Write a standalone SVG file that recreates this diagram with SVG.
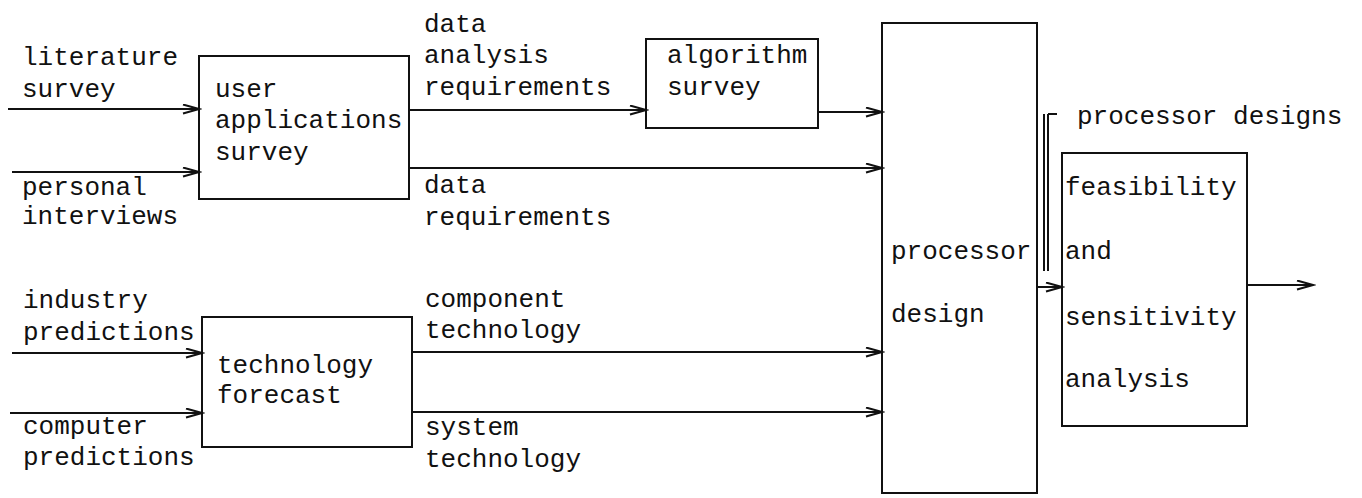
<svg xmlns="http://www.w3.org/2000/svg" width="1362" height="498" viewBox="0 0 1362 498">
  <style>
    .box { fill: none; stroke: #111; stroke-width: 2; }
    .edge { fill: none; stroke: #111; stroke-width: 2; marker-end: url(#chev); }
    .line { fill: none; stroke: #111; stroke-width: 2; }
    text { font-family: "Liberation Mono", "DejaVu Sans Mono", monospace; font-size: 26px; fill: #111; }
  </style>
  <defs>
    <!-- open chevron arrowhead -->
    <marker id="chev" markerUnits="userSpaceOnUse" markerWidth="20" markerHeight="12" refX="17" refY="5" orient="auto">
      <path d="M1,0.5 L17,5 L1,9.5" fill="none" stroke="#111" stroke-width="2"/>
    </marker>
  </defs>
  <rect width="1362" height="498" fill="#fff"/>

  <!-- external inputs -->
  <g id="in-literature">
    <text x="22" y="65">literature</text>
    <text x="22" y="97">survey</text>
  </g>
  <g id="in-interviews">
    <text x="22" y="195">personal</text>
    <text x="22" y="224">interviews</text>
  </g>
  <g id="in-industry">
    <text x="23" y="308">industry</text>
    <text x="23" y="340">predictions</text>
  </g>
  <g id="in-computer">
    <text x="23" y="434">computer</text>
    <text x="23" y="465">predictions</text>
  </g>

  <!-- process boxes -->
  <g id="user-survey">
    <rect class="box" x="199" y="56" width="210" height="143"/>
    <text x="215" y="97">user</text>
    <text x="215" y="128">applications</text>
    <text x="215" y="160">survey</text>
  </g>
  <g id="tech-forecast">
    <rect class="box" x="202" y="317" width="210" height="130"/>
    <text x="217" y="373">technology</text>
    <text x="217" y="403">forecast</text>
  </g>
  <g id="algorithm-survey">
    <rect class="box" x="646" y="39" width="172" height="89"/>
    <text x="667" y="63">algorithm</text>
    <text x="667" y="95">survey</text>
  </g>
  <g id="processor-design">
    <rect class="box" x="882" y="23" width="155" height="470"/>
    <text x="891" y="259">processor</text>
    <text x="891" y="322">design</text>
  </g>
  <g id="feasibility">
    <rect class="box" x="1062" y="153" width="185" height="273"/>
    <text x="1065" y="195">feasibility</text>
    <text x="1065" y="259">and</text>
    <text x="1065" y="325">sensitivity</text>
    <text x="1065" y="387">analysis</text>
  </g>

  <!-- flow labels -->
  <g id="labels">
    <text x="424" y="32">data</text>
    <text x="424" y="63">analysis</text>
    <text x="424" y="95">requirements</text>
    <text x="424" y="193">data</text>
    <text x="424" y="225">requirements</text>
    <text x="425" y="307">component</text>
    <text x="425" y="338">technology</text>
    <text x="425" y="435">system</text>
    <text x="425" y="467">technology</text>
    <text x="1077" y="124">processor designs</text>
  </g>

  <!-- connectors -->
  <g id="connectors">
    <line class="edge" x1="8" y1="109" x2="199" y2="109"/>
    <line class="edge" x1="12" y1="172" x2="199" y2="172"/>
    <line class="edge" x1="12" y1="353" x2="202" y2="353"/>
    <line class="edge" x1="10" y1="413" x2="202" y2="413"/>
    <line class="edge" x1="409" y1="110" x2="646" y2="110"/>
    <line class="edge" x1="818" y1="112" x2="882" y2="112"/>
    <line class="edge" x1="409" y1="168" x2="882" y2="168"/>
    <line class="edge" x1="412" y1="352" x2="882" y2="352"/>
    <line class="edge" x1="412" y1="412" x2="882" y2="412"/>
    <line class="edge" x1="1037" y1="287" x2="1062" y2="287"/>
    <line class="edge" x1="1247" y1="285" x2="1313" y2="285"/>
    <!-- bracket grouping the processor designs -->
    <path class="line" d="M1044,114 V271 M1048,114 V271 M1048,114 H1057"/>
  </g>
</svg>
